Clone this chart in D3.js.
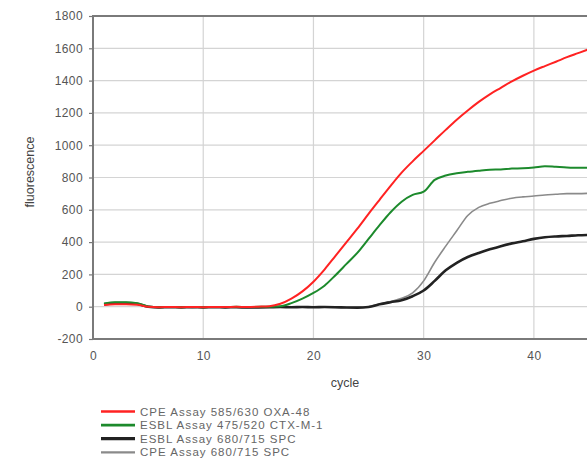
<!DOCTYPE html>
<html>
<head>
<meta charset="utf-8">
<script src="https://cdn.jsdelivr.net/npm/d3@7"></script>
<style>
  body { margin: 0; background: #fff; }
  text { font-family: "Liberation Sans", Arial, sans-serif; }
</style>
</head>
<body>
<div id="chart"></div>
<script>
/* DATA */
const cycles = d3.range(1, 46);

const seriesNames = [
  "CPE Assay 585/630 OXA-48",
  "ESBL Assay 475/520 CTX-M-1",
  "ESBL Assay 680/715 SPC",
  "CPE Assay 680/715 SPC"
];

// fluorescence per cycle, cycles 1..45
const oxa48 = [10, 15, 15, 12, 0, -3, -2, -3, -2, -3, -2, -2, -1, -2, 0, 3, 18, 50, 95, 155,
  230, 315, 400, 485, 575, 662, 748, 830, 900, 965, 1030, 1095, 1158, 1215, 1268, 1315, 1355, 1395, 1430, 1462,
  1490, 1517, 1545, 1570, 1595];
const ctxm1 = [20, 28, 28, 22, 2, -3, -2, -3, -2, -3, -2, -2, -1, -2, -1, 0, 3, 22, 50, 85,
  130, 195, 265, 335, 420, 505, 585, 650, 692, 712, 785, 812, 826, 835, 842, 848, 850, 855, 857, 862,
  870, 866, 862, 860, 860];
const esblSpc = [15, 22, 22, 18, 0, -4, -3, -4, -3, -4, -3, -4, -3, -5, -4, -3, -2, -3, -2, -3,
  -2, -3, -5, -6, -2, 15, 28, 40, 65, 100, 160, 225, 272, 308, 333, 355, 375, 392, 405, 420,
  430, 435, 438, 442, 444];
const cpeSpc = [12, 18, 18, 15, 0, -4, -3, -3, -4, -3, -3, -4, -3, -4, -3, -2, -3, -2, -3, -2,
  -3, -4, -5, -5, 0, 17, 32, 52, 85, 160, 275, 375, 470, 565, 615, 640, 657, 672, 680, 685,
  692, 696, 700, 700, 702];

const xTicks = [0, 10, 20, 30, 40];
const yTicks = [-200, 0, 200, 400, 600, 800, 1000, 1200, 1400, 1600, 1800];

/* LAYOUT */
const width = 587, height = 465;
const margin = { top: 16, left: 93, bottom: 339, right: 589 };
const colors = ["#ff2222", "#1c8a2c", "#222222", "#8a8a8a"];
const widths = [2, 2, 2.6, 1.6];

const allSeries = [oxa48, ctxm1, esblSpc, cpeSpc];

const svg = d3.select("#chart").append("svg")
  .attr("width", width)
  .attr("height", height);

const xScale = d3.scaleLinear().domain([0, 45]).range([margin.left, margin.right]);
const yScale = d3.scaleLinear().domain([-200, 1800]).range([margin.bottom, margin.top]);

// gridlines
svg.append("g")
  .selectAll("line")
  .data(yTicks)
  .join("line")
  .attr("x1", margin.left).attr("x2", width)
  .attr("y1", d => yScale(d)).attr("y2", d => yScale(d))
  .attr("stroke", "#d4d4d4").attr("stroke-width", 1.2);

svg.append("g")
  .selectAll("line")
  .data(xTicks.slice(1))
  .join("line")
  .attr("y1", margin.top).attr("y2", margin.bottom)
  .attr("x1", d => xScale(d)).attr("x2", d => xScale(d))
  .attr("stroke", "#d4d4d4").attr("stroke-width", 1.2);

// axes (plain hyphen for negatives, no thousands comma)
const yAxis = d3.axisLeft(yScale).tickValues(yTicks).tickFormat(d => String(d)).tickSize(4).tickPadding(6);
const xAxis = d3.axisBottom(xScale).tickValues(xTicks).tickFormat(d => String(d)).tickSize(0).tickPadding(12);

const yG = svg.append("g")
  .attr("transform", `translate(${margin.left},0)`)
  .call(yAxis);
const xG = svg.append("g")
  .attr("transform", `translate(0,${margin.bottom})`)
  .call(xAxis);

[yG, xG].forEach(g => {
  g.select(".domain").remove();
  g.selectAll("line").attr("stroke", "#777").attr("stroke-width", 1.2);
  g.selectAll("text")
    .attr("fill", "#555")
    .style("font-size", "12px")
    .style("letter-spacing", "0.4px");
});

// frame
svg.append("rect")
  .attr("x", margin.left).attr("y", margin.top)
  .attr("width", width - margin.left + 4)
  .attr("height", margin.bottom - margin.top)
  .attr("fill", "none")
  .attr("stroke", "#7a7a7a")
  .attr("stroke-width", 2);

// lines
const line = d3.line()
  .x((d, i) => xScale(cycles[i]))
  .y(d => yScale(d))
  .curve(d3.curveMonotoneX);

svg.append("g")
  .selectAll("path")
  .data([cpeSpc, esblSpc, ctxm1, oxa48])
  .join("path")
  .attr("fill", "none")
  .attr("stroke", d => colors[allSeries.indexOf(d)])
  .attr("stroke-width", d => widths[allSeries.indexOf(d)])
  .attr("d", line);

// axis titles
svg.append("text")
  .attr("x", 345).attr("y", 387)
  .attr("text-anchor", "middle")
  .attr("fill", "#444")
  .style("font-size", "12.5px")
  .text("cycle");

svg.append("text")
  .attr("transform", "translate(34,172) rotate(-90)")
  .attr("text-anchor", "middle")
  .attr("fill", "#444")
  .style("font-size", "12.5px")
  .text("fluorescence");

// legend
const legend = svg.append("g")
  .selectAll("g")
  .data(seriesNames)
  .join("g")
  .attr("transform", (d, i) => `translate(101,${411.5 + i * 13.6})`);

legend.append("line")
  .attr("x1", 0).attr("x2", 34)
  .attr("stroke", (d, i) => colors[i])
  .attr("stroke-width", (d, i) => widths[i] + 0.6);

legend.append("text")
  .attr("x", 39).attr("y", 4)
  .attr("fill", "#666")
  .style("font-size", "11.5px")
  .style("letter-spacing", "1px")
  .text(d => d);
</script>
</body>
</html>
